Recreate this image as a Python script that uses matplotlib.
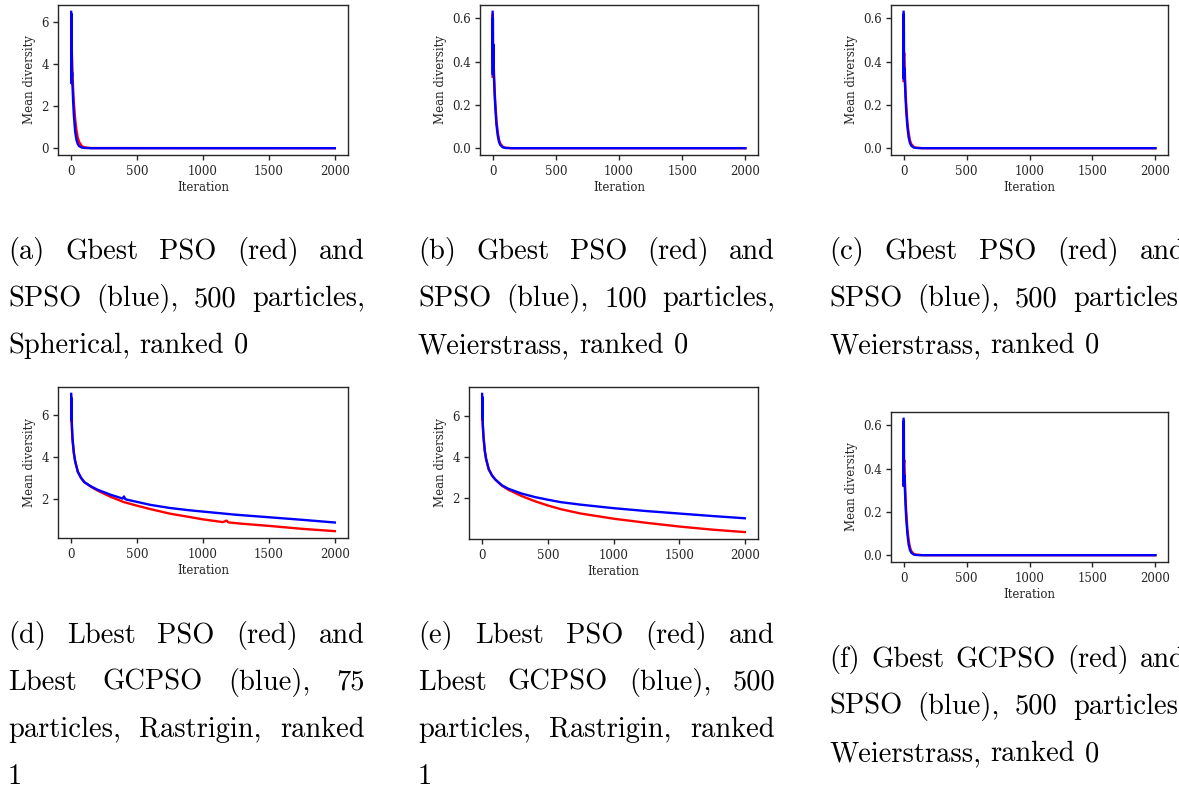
import matplotlib
matplotlib.use("Agg")
import matplotlib.pyplot as plt

# ---------------------------------------------------------------- data
# (a) Spherical, 500 particles
it_a_red = [0, 2, 5, 10, 15, 20, 30, 40, 50, 60, 80, 100, 150, 2000]
div_a_red = [6.4, 5.4, 4.5, 3.5, 2.8, 2.2, 1.4, 0.85, 0.5, 0.3, 0.1, 0.04, 0.005, 0.0]
it_a_blue = [0, 1, 2, 3, 4, 5, 6, 7, 8, 10, 15, 20, 30, 40, 50, 60, 80, 100, 150, 2000]
div_a_blue = [6.5, 3.1, 6.4, 4.8, 3.2, 4.7, 3.4, 3.6, 3.3, 3.0, 2.2, 1.6, 0.8, 0.4,
              0.2, 0.1, 0.03, 0.01, 0.0, 0.0]

# (b) Weierstrass, 100 particles
it_b_red = [0, 1, 2, 5, 10, 15, 20, 30, 40, 50, 60, 80, 100, 150, 2000]
div_b_red = [0.33, 0.62, 0.40, 0.45, 0.36, 0.28, 0.22, 0.13, 0.075, 0.04, 0.022,
             0.007, 0.002, 0.0, 0.0]
it_b_blue = [0, 1, 2, 3, 4, 5, 6, 8, 10, 15, 20, 30, 40, 50, 60, 80, 100, 150, 2000]
div_b_blue = [0.63, 0.34, 0.60, 0.49, 0.36, 0.48, 0.37, 0.36, 0.33, 0.26, 0.20, 0.11,
              0.06, 0.03, 0.015, 0.004, 0.001, 0.0, 0.0]

# (c) Weierstrass, 500 particles
it_c_red = [0, 1, 2, 5, 10, 15, 20, 30, 40, 50, 60, 80, 100, 150, 2000]
div_c_red = [0.31, 0.62, 0.42, 0.44, 0.35, 0.27, 0.21, 0.12, 0.07, 0.038, 0.02,
             0.006, 0.002, 0.0, 0.0]
it_c_blue = [0, 1, 2, 3, 4, 5, 6, 8, 10, 15, 20, 30, 40, 50, 60, 80, 100, 150, 2000]
div_c_blue = [0.63, 0.32, 0.62, 0.48, 0.34, 0.37, 0.35, 0.34, 0.31, 0.24, 0.18, 0.10,
              0.05, 0.025, 0.012, 0.003, 0.001, 0.0, 0.0]

# (d) Rastrigin, 75 particles
it_d_red = [0, 1, 2, 5, 10, 20, 30, 50, 75, 100, 150, 200, 300, 400, 500, 600, 750,
            900, 1000, 1150, 1180, 1190, 1200, 1300, 1500, 1750, 2000]
div_d_red = [6.9, 5.7, 6.3, 5.4, 4.8, 4.2, 3.8, 3.3, 3.0, 2.8, 2.58, 2.4, 2.1, 1.85,
             1.68, 1.52, 1.3, 1.14, 1.03, 0.9, 0.97, 0.9, 0.88, 0.82, 0.72, 0.58, 0.47]
it_d_blue = [0, 1, 2, 5, 10, 20, 30, 50, 75, 100, 150, 200, 300, 390, 400, 410, 420,
             500, 600, 750, 900, 1000, 1250, 1500, 1750, 2000]
div_d_blue = [7.0, 5.8, 6.8, 5.6, 4.9, 4.2, 3.8, 3.3, 3.0, 2.8, 2.6, 2.44, 2.2, 2.02,
              2.12, 2.0, 1.97, 1.86, 1.72, 1.57, 1.46, 1.4, 1.25, 1.13, 1.01, 0.88]

# (e) Rastrigin, 500 particles
it_e = [0, 1, 2, 5, 10, 20, 30, 50, 75, 100, 150, 200, 300, 400, 500, 600, 750, 1000,
        1250, 1500, 1750, 2000]
div_e_red = [5.8, 6.6, 6.0, 5.5, 5.0, 4.3, 3.9, 3.4, 3.1, 2.9, 2.6, 2.4, 2.1, 1.85,
             1.64, 1.46, 1.25, 1.0, 0.8, 0.62, 0.47, 0.35]
div_e_blue = [7.05, 5.9, 6.9, 5.6, 5.0, 4.3, 3.9, 3.4, 3.1, 2.9, 2.62, 2.45, 2.22,
              2.05, 1.92, 1.8, 1.68, 1.51, 1.37, 1.25, 1.13, 1.02]

# (f) Weierstrass, 500 particles, Gbest GCPSO vs SPSO
it_f_red = [0, 1, 2, 5, 10, 15, 20, 30, 40, 50, 60, 80, 100, 150, 2000]
div_f_red = [0.32, 0.62, 0.42, 0.44, 0.35, 0.27, 0.21, 0.12, 0.07, 0.038, 0.02,
             0.006, 0.002, 0.0, 0.0]
it_f_blue = [0, 1, 2, 3, 4, 5, 6, 8, 10, 15, 20, 30, 40, 50, 60, 80, 100, 150, 2000]
div_f_blue = [0.63, 0.32, 0.62, 0.48, 0.34, 0.37, 0.35, 0.34, 0.31, 0.24, 0.18, 0.10,
              0.05, 0.025, 0.012, 0.003, 0.001, 0.0, 0.0]

captions = {
    "a": ["(a) Gbest PSO (red) and", "SPSO (blue), 500 particles,",
          "Spherical, ranked 0"],
    "b": ["(b) Gbest PSO (red) and", "SPSO (blue), 100 particles,",
          "Weierstrass, ranked 0"],
    "c": ["(c) Gbest PSO (red) and", "SPSO (blue), 500 particles,",
          "Weierstrass, ranked 0"],
    "d": ["(d) Lbest PSO (red) and", "Lbest GCPSO (blue), 75",
          "particles, Rastrigin, ranked", "1"],
    "e": ["(e) Lbest PSO (red) and", "Lbest GCPSO (blue), 500",
          "particles, Rastrigin, ranked", "1"],
    "f": ["(f) Gbest GCPSO (red) and", "SPSO (blue), 500 particles,",
          "Weierstrass, ranked 0"],
}

# ---------------------------------------------------------------- style
W, H = 1179, 790
DPI = 100
INK = "0.15"
plt.rcParams.update({
    "font.family": "DejaVu Serif",
    "font.size": 8.5,
    "axes.edgecolor": INK,
    "axes.linewidth": 1.0,
    "axes.labelcolor": INK,
    "axes.labelpad": 3.5,
    "xtick.color": INK,
    "ytick.color": INK,
    "xtick.labelcolor": INK,
    "ytick.labelcolor": INK,
    "xtick.major.size": 3.5,
    "ytick.major.size": 3.5,
    "xtick.major.width": 1.0,
    "ytick.major.width": 1.0,
    "xtick.major.pad": 3.5,
    "ytick.major.pad": 3.0,
    "axes.labelsize": 8.5,
    "xtick.labelsize": 8.5,
    "ytick.labelsize": 8.5,
})

fig = plt.figure(figsize=(W / DPI, H / DPI), dpi=DPI)


def box(left, top, right, bottom):
    return [left / W, 1 - bottom / H, (right - left) / W, (bottom - top) / H]


panels = [
    ((58, 5, 348, 155), it_a_red, div_a_red, it_a_blue, div_a_blue),
    ((480, 5, 758, 155), it_b_red, div_b_red, it_b_blue, div_b_blue),
    ((891, 5, 1168, 155), it_c_red, div_c_red, it_c_blue, div_c_blue),
    ((58, 387, 348, 538), it_d_red, div_d_red, it_d_blue, div_d_blue),
    ((469, 387, 758, 539), it_e, div_e_red, it_e, div_e_blue),
    ((891, 412, 1168, 562), it_f_red, div_f_red, it_f_blue, div_f_blue),
]

for rect, xr, yr, xb, yb in panels:
    ax = fig.add_axes(box(*rect))
    ax.plot(xr, yr, color="red", lw=1.7)
    ax.plot(xb, yb, color="blue", lw=1.7)
    ax.set_xlabel("Iteration", labelpad=2.5)
    ax.set_ylabel("Mean diversity", labelpad=4.0)
    ax.set_xticks([0, 500, 1000, 1500, 2000])

# ---------------------------------------------------------------- captions
CAP_SIZE = 20.5
CAP_WIDTH = 357
renderer = fig.canvas.get_renderer()
space_px = 0.333 * CAP_SIZE * DPI / 72


def word_width(word):
    t = fig.text(0, 0, word, fontsize=CAP_SIZE, family="cmr10")
    w = t.get_window_extent(renderer).width
    t.remove()
    return w


def caption(lines, x0, baseline0, step=47):
    for i, line in enumerate(lines):
        words = line.split(" ")
        widths = [word_width(w) for w in words]
        last = i == len(lines) - 1
        if last or len(words) == 1:
            gap = space_px
        else:
            gap = (CAP_WIDTH - sum(widths)) / (len(words) - 1)
        x = x0
        y = baseline0 + i * step
        for w, wd in zip(words, widths):
            fig.text(x / W, 1 - y / H, w, fontsize=CAP_SIZE, family="cmr10",
                     ha="left", va="baseline", color="black")
            x += wd + gap


caption(captions["a"], 8, 259)
caption(captions["b"], 418, 259)
caption(captions["c"], 829, 259)
caption(captions["d"], 8, 643)
caption(captions["e"], 418, 643)
caption(captions["f"], 829, 667)

fig.savefig("out.png", dpi=DPI)
